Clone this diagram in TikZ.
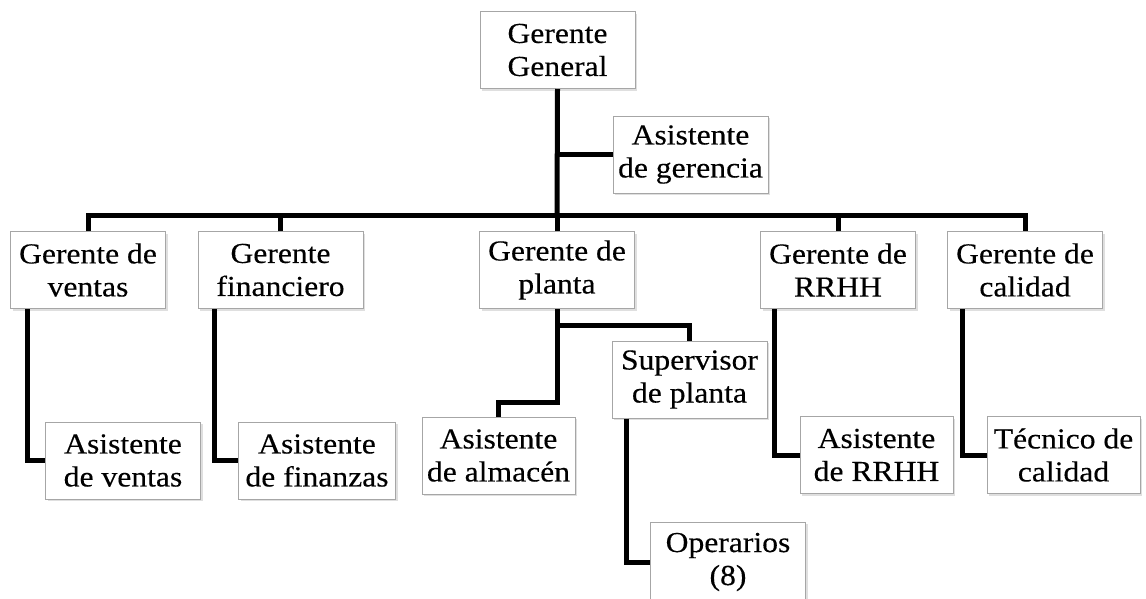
\documentclass[tikz,border=0pt]{standalone}
\usepackage{fontspec}
\setmainfont{Liberation Serif}[FakeStretch=1.09, FakeBold=0.3]
\usetikzlibrary{positioning, calc, shadows}

\begin{document}
\begin{tikzpicture}[
  x=1pt, y=-1pt,
  puesto/.style={draw=gray!70, line width=1pt, fill=white, inner sep=0pt,
                 minimum width=155pt, minimum height=77pt, align=center,
                 font=\fontsize{29}{33}\selectfont,
                 drop shadow={opacity=0.25, shadow xshift=2pt, shadow yshift=-2pt}},
  enlace/.style={line width=5pt, line join=miter}
]
  \useasboundingbox[fill=white] (0,0) rectangle (1146,598);

  % ----- Gerencia -----
  \node[puesto] (gg)  at (557.5,50)  {Gerente\\General};
  \node[puesto] (asg) at (690.5,154.5) {Asistente\\de gerencia};

  % ----- Gerentes de area (y = 270) -----
  \node[puesto] (gv)  at (88,270)    {Gerente de\\ventas};
  \node[puesto, minimum width=165pt] (gf) at (280.5,270) {Gerente\\financiero};
  \node[puesto] (gp)  at (557,270)   {Gerente de\\planta};
  \node[puesto] (grh) at (838,270)   {Gerente de\\RRHH};
  \node[puesto] (gc)  at (1025,270)  {Gerente de\\calidad};

  % ----- Asistentes y personal -----
  \node[puesto] (av)  at (123,460.5) {Asistente\\de ventas};
  \node[puesto, minimum width=157pt] (af) at (317,460.5) {Asistente\\de finanzas};
  \node[puesto] (sp)  at (689.5,379.5) {Supervisor\\de planta};
  \node[puesto, minimum width=153pt] (aa) at (498.5,455.5) {Asistente\\de almacén};
  \node[puesto, minimum height=80pt] (op) at (728,562) {Operarios\\(8)};
  \node[puesto, minimum width=153pt] (arh) at (876.5,455) {Asistente\\de RRHH};
  \node[puesto, minimum width=153pt] (tc)  at (1063.5,455) {Técnico de\\calidad};

  % ----- Puntos de union -----
  \coordinate (bus) at (557,215);
  \coordinate (pb)  at (557,325);
  \coordinate (ab)  at (557,402);

  % ----- Lineas de mando -----
  \draw[enlace] (gg.south) -- (bus);
  \draw[enlace] (gg.south |- asg.west) -- (asg.west);
  \draw[enlace] (gv.north) |- (bus) -| (gc.north);
  \draw[enlace] (gf.north) -- (gf.north |- bus);
  \draw[enlace] (gp.north) -- (gp.north |- bus);
  \draw[enlace] (grh.north) -- (grh.north |- bus);

  \draw[enlace] ([xshift=17pt]gv.south west) |- (av.west);
  \draw[enlace] ([xshift=17pt]gf.south west) |- (af.west);
  \draw[enlace] (gp.south) -- (ab) -| (aa.north);
  \draw[enlace] (pb) -| (sp.north);
  \draw[enlace] ([xshift=15pt]sp.south west) |- (op.west);
  \draw[enlace] ([xshift=14pt]grh.south west) |- (arh.west);
  \draw[enlace] ([xshift=15pt]gc.south west) |- (tc.west);
\end{tikzpicture}
\end{document}
